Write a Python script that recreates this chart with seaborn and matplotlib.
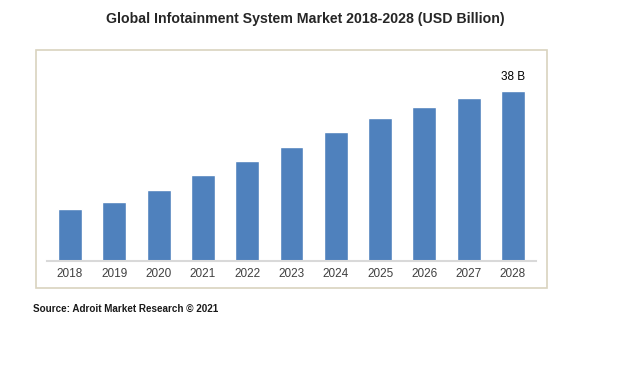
import matplotlib
matplotlib.use("Agg")
import matplotlib.pyplot as plt
from matplotlib.patches import Rectangle
import seaborn as sns
import pandas as pd

# valores (USD mil millones)
years = ["2018", "2019", "2020", "2021", "2022", "2023", "2024", "2025", "2026", "2027", "2028"]
market = [11.6, 13.2, 15.9, 19.2, 22.4, 25.5, 28.8, 32.0, 34.4, 36.4, 38.0]
last_label = "38 B"

data = pd.DataFrame({"year": years, "value": market})

sns.set_style("white")
plt.rcParams["font.family"] = ["Liberation Sans", "DejaVu Sans"]

fig = plt.figure(figsize=(6.32, 3.78), dpi=100)

# marco beige alrededor del grafico
fig.patches.append(Rectangle((0.057, 0.238), 0.8085, 0.6297, transform=fig.transFigure,
                             fill=False, edgecolor="#d9d3bf", linewidth=1.2))

ax = fig.add_axes([0.0744, 0.3095, 0.7737, 0.5053])
sns.barplot(data=data, x="year", y="value", color="#4f81bd", saturation=1, width=0.54, ax=ax)

ax.set_xlim(-0.52, 10.52)
ax.set_ylim(0, 42.7)
ax.set_xlabel("")
ax.set_ylabel("")
ax.set_yticks([])
for s in ["top", "right", "left"]:
    ax.spines[s].set_visible(False)
ax.spines["bottom"].set_color("#d9d9d9")
ax.spines["bottom"].set_linewidth(1.5)
ax.tick_params(axis="x", length=0, labelsize=8.5, labelcolor="#404040", pad=5)

# etiqueta del ultimo valor
ax.annotate(last_label, (10, market[-1]), xytext=(0, 6), textcoords="offset points",
            ha="center", va="bottom", fontsize=8.5, color="black")

fig.text(0.483, 0.95, "Global Infotainment System Market 2018-2028 (USD Billion)",
         ha="center", va="center", fontsize=10.2, fontweight="bold")
fig.text(0.052, 0.183, "Source: Adroit Market Research \u00a9 2021",
         ha="left", va="center", fontsize=7.1, fontweight="bold", color="#1a1a1a")

fig.savefig("out.png", dpi=100)
